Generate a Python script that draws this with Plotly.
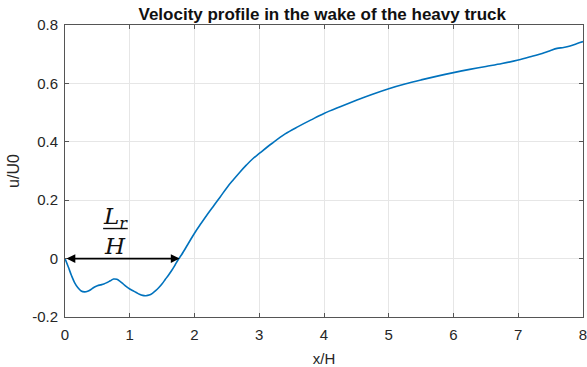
import plotly.graph_objects as go

# ---- data ----
x_over_H = [0, 0.05, 0.1, 0.15, 0.2, 0.25, 0.3, 0.35, 0.4, 0.45, 0.5, 0.55, 0.6, 0.65,
            0.7, 0.75, 0.8, 0.85, 0.9, 0.95, 1.0, 1.05, 1.1, 1.15, 1.2, 1.25, 1.3, 1.35,
            1.4, 1.45, 1.5, 1.55, 1.6, 1.65, 1.7, 1.75, 1.8, 1.9, 2.0, 2.1, 2.2, 2.3,
            2.4, 2.5, 2.6, 2.7, 2.8, 2.9, 3.0, 3.2, 3.4, 3.6, 3.8, 4.0, 4.25, 4.5,
            4.75, 5.0, 5.25, 5.5, 5.75, 6.0, 6.25, 6.5, 6.75, 7.0, 7.2, 7.4, 7.5,
            7.6, 7.7, 7.8, 7.9, 8.0]
u_over_U0 = [0, -0.028, -0.058, -0.083, -0.1, -0.111, -0.114, -0.112, -0.106, -0.098,
             -0.093, -0.09, -0.087, -0.082, -0.076, -0.07, -0.071, -0.078, -0.087,
             -0.096, -0.104, -0.11, -0.116, -0.122, -0.126, -0.127, -0.125, -0.119,
             -0.11, -0.099, -0.086, -0.071, -0.056, -0.04, -0.022, -0.003, 0.013, 0.05,
             0.087, 0.12, 0.152, 0.182, 0.212, 0.243, 0.27, 0.296, 0.32, 0.342, 0.36,
             0.395, 0.427, 0.452, 0.475, 0.497, 0.52, 0.542, 0.563, 0.582, 0.598,
             0.612, 0.625, 0.637, 0.648, 0.658, 0.668, 0.68, 0.692, 0.705, 0.713,
             0.72, 0.723, 0.728, 0.736, 0.743]
Lr_over_H = 1.77
x_ticks = [0, 1, 2, 3, 4, 5, 6, 7, 8]
y_ticks = [-0.2, 0, 0.2, 0.4, 0.6, 0.8]
y_tick_labels = ["-0.2", "0", "0.2", "0.4", "0.6", "0.8"]

fig = go.Figure()
fig.add_trace(go.Scatter(x=x_over_H, y=u_over_U0, mode="lines",
                         line=dict(color="#0072BD", width=1.6, shape="spline", smoothing=1.0),
                         showlegend=False, hoverinfo="skip"))

# recirculation length arrow
fig.add_annotation(x=Lr_over_H, y=0, ax=0, ay=0, axref="x", ayref="y", xref="x", yref="y",
                   text="", showarrow=True, arrowhead=2, arrowside="end+start",
                   arrowsize=1.1, arrowwidth=1.6, arrowcolor="black", standoff=0, startstandoff=0)

# fraction label L_r / H
frac_x = Lr_over_H * 0.44
fig.add_annotation(x=frac_x, y=0.103, xref="x", yref="y", yanchor="bottom", yshift=-6,
                   text="<i>L<sub>r</sub></i>",
                   showarrow=False, font=dict(family="DejaVu Serif", size=23, color="#111"))
fig.add_shape(type="line", x0=frac_x - 0.19, x1=frac_x + 0.19, y0=0.103, y1=0.103,
              xref="x", yref="y", line=dict(color="#111", width=1.4))
fig.add_annotation(x=frac_x, y=0.103, xref="x", yref="y", yanchor="top", yshift=-2,
                   text="<i>H</i>",
                   showarrow=False, font=dict(family="DejaVu Serif", size=23, color="#111"))

axis_common = dict(showgrid=True, gridcolor="#e6e6e6", gridwidth=1, zeroline=False,
                   showline=True, linecolor="#555555", linewidth=1, mirror="ticks",
                   ticks="inside", ticklen=4, tickcolor="#555555",
                   ticklabeloverflow="allow", automargin=False,
                   tickfont=dict(family="Arial", size=15, color="#262626"))

fig.update_xaxes(range=[0, 8], tickvals=x_ticks, ticktext=[str(v) for v in x_ticks],
                 ticklabelstandoff=4,
                 title=dict(text="x/H", font=dict(family="Arial", size=15, color="#262626"),
                            standoff=13),
                 **axis_common)
fig.update_yaxes(range=[-0.2, 0.8], tickvals=y_ticks, ticktext=y_tick_labels,
                 ticklabelstandoff=3,
                 title=dict(text="u/U0", font=dict(family="Arial", size=16, color="#262626"),
                            standoff=8),
                 **axis_common)

fig.update_layout(
    width=587, height=367,
    margin=dict(l=65, r=4, t=25, b=50),
    paper_bgcolor="white", plot_bgcolor="white",
    title=dict(text="<b>Velocity profile in the wake of the heavy truck</b>",
               x=0.549, xanchor="center", y=0.962, yanchor="middle",
               font=dict(family="Arial", size=17, color="#111")),
)

fig.write_html("out.html")
